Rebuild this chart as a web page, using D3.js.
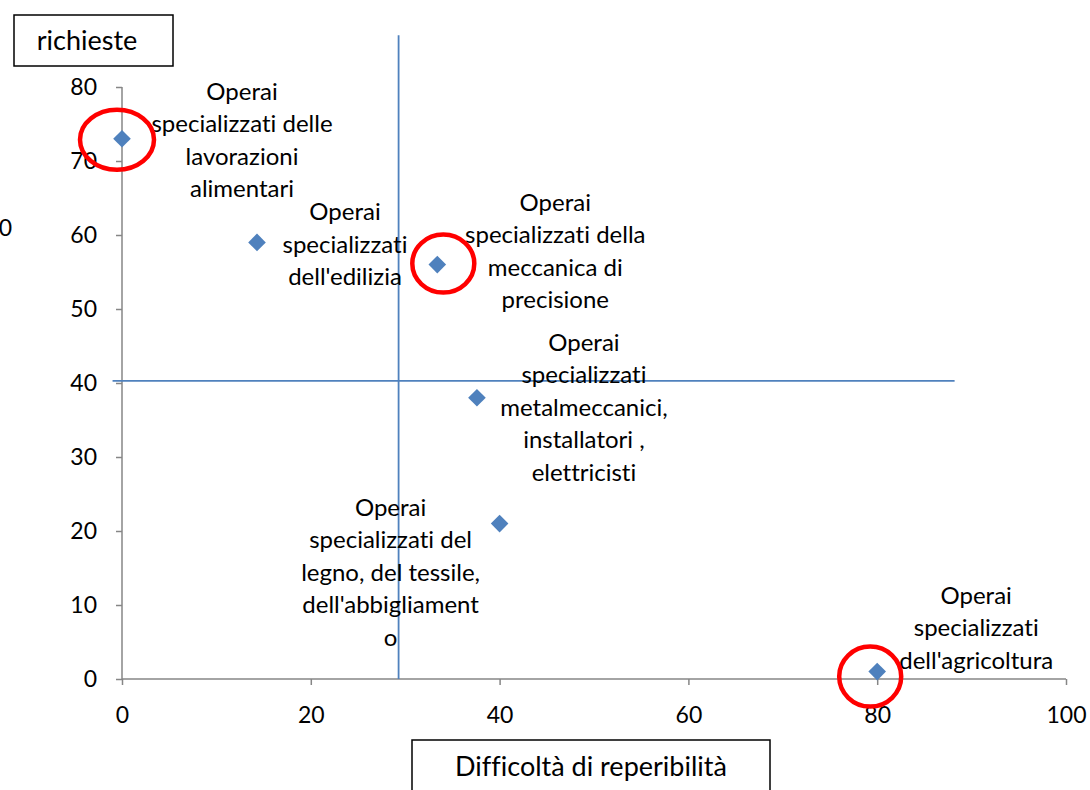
<!DOCTYPE html>
<html>
<head>
<meta charset="utf-8">
<script src="https://cdn.jsdelivr.net/npm/d3@7"></script>
<style>
  body { margin: 0; background: #fff; }
  svg { display: block; font-family: Lato, "Open Sans", sans-serif; font-variant-ligatures: none; }
</style>
</head>
<body>
<svg id="chart" width="1090" height="790"></svg>
<script>
// values
const names = [
  ["Operai", "specializzati delle", "lavorazioni", "alimentari"],
  ["Operai", "specializzati", "dell'edilizia"],
  ["Operai", "specializzati della", "meccanica di", "precisione"],
  ["Operai", "specializzati", "metalmeccanici,", "installatori ,", "elettricisti"],
  ["Operai", "specializzati del", "legno, del tessile,", "dell'abbigliament", "o"],
  ["Operai", "specializzati", "dell'agricoltura"]
];
const difficolta = [0, 14.3, 33.4, 37.6, 40, 80];
const richieste = [73, 59, 56, 38, 21, 1];
const circled = [true, false, true, false, false, true];
const xTicks = [0, 20, 40, 60, 80, 100];
const yTicks = [0, 10, 20, 30, 40, 50, 60, 70, 80];
// quadrant lines (data units)
const vLine = { x: 29.3, y0: 0, y1: 87 };
const hLine = { y: 40.3, x0: -1, x1: 88.2 };

// label placement, pixel offsets from the point (centre of first line)
const labelOffset = [[120, -47], [88, -30], [118, -62], [107, -55], [-109, -16], [99, -76]];
// red ring placement: [dx, dy, rx, ry] relative to the point
const ringShape = [[-5, 1, 37, 30], null, [6, -1, 31, 29], null, null, [-7, 5, 31, 30]];

const svg = d3.select("#chart");
const x = d3.scaleLinear().domain([0, 100]).range([122, 1066]);
const y = d3.scaleLinear().domain([0, 80]).range([679, 87]);
const grey = "#868686", blue = "#4F81BD";

// axes
const xAxis = svg.append("g").attr("transform", `translate(0,${y(0)})`)
  .call(d3.axisBottom(x).tickValues(xTicks).tickSize(6).tickPadding(22));
const yAxis = svg.append("g").attr("transform", `translate(${x(0)},0)`)
  .call(d3.axisLeft(y).tickValues(yTicks).tickSize(6).tickPadding(19));
[xAxis, yAxis].forEach(a => {
  a.selectAll("path, line").attr("stroke", grey).attr("stroke-width", 1.5);
  a.selectAll("text").attr("font-size", 23).attr("fill", "#000")
    .attr("font-family", "Lato, 'Open Sans', sans-serif");
});
xAxis.select(".domain").attr("d", `M${x(0)},0H${x(100)}`);
yAxis.select(".domain").attr("d", `M0,${y(80)}V${y(0)}`);

// quadrant lines
svg.append("line")
  .attr("x1", x(vLine.x)).attr("x2", x(vLine.x))
  .attr("y1", y(vLine.y0)).attr("y2", y(vLine.y1))
  .attr("stroke", blue).attr("stroke-width", 1.8);
svg.append("line")
  .attr("x1", x(hLine.x0)).attr("x2", x(hLine.x1))
  .attr("y1", y(hLine.y)).attr("y2", y(hLine.y))
  .attr("stroke", blue).attr("stroke-width", 1.8);

const pts = difficolta.map((d, i) => ({
  x: d, y: richieste[i], name: names[i], c: circled[i], off: labelOffset[i], ring: ringShape[i]
}));

// labels
const lab = svg.append("g").selectAll("text").data(pts).enter().append("text")
  .attr("text-anchor", "middle").attr("font-size", 24).attr("fill", "#000")
  .attr("x", d => x(d.x) + d.off[0])
  .attr("y", d => y(d.y) + d.off[1] + 8);
lab.selectAll("tspan").data(d => d.name.map(t => ({ t, d }))).enter().append("tspan")
  .attr("x", o => x(o.d.x) + o.d.off[0])
  .attr("dy", (o, j) => j ? 32.5 : 0)
  .text(o => o.t);

// markers
svg.append("g").selectAll("path").data(pts).enter().append("path")
  .attr("d", d3.symbol().type(d3.symbolSquare).size(155))
  .attr("transform", d => `translate(${x(d.x)},${y(d.y)}) rotate(45)`)
  .attr("fill", blue);

// red rings
svg.append("g").selectAll("ellipse").data(pts.filter(d => d.c)).enter().append("ellipse")
  .attr("cx", d => x(d.x) + d.ring[0]).attr("cy", d => y(d.y) + d.ring[1])
  .attr("rx", d => d.ring[2]).attr("ry", d => d.ring[3])
  .attr("fill", "none").attr("stroke", "#FF0000").attr("stroke-width", 4.5);

// axis title boxes
svg.append("rect").attr("x", 14).attr("y", 15).attr("width", 159).attr("height", 51)
  .attr("fill", "#fff").attr("stroke", "#000").attr("stroke-width", 1.5);
svg.append("text").attr("x", 87).attr("y", 50).attr("text-anchor", "middle")
  .attr("font-size", 27).text("richieste");
svg.append("rect").attr("x", 412).attr("y", 740).attr("width", 358).attr("height", 60)
  .attr("fill", "#fff").attr("stroke", "#000").attr("stroke-width", 1.5);
svg.append("text").attr("x", 591).attr("y", 776).attr("text-anchor", "middle")
  .attr("font-size", 27).text("Difficoltà di reperibilità");

// stray fragment at the left edge
svg.append("text").attr("x", 12).attr("y", 236).attr("text-anchor", "end")
  .attr("font-size", 23).attr("fill", "#000").text("0");
</script>
</body>
</html>
